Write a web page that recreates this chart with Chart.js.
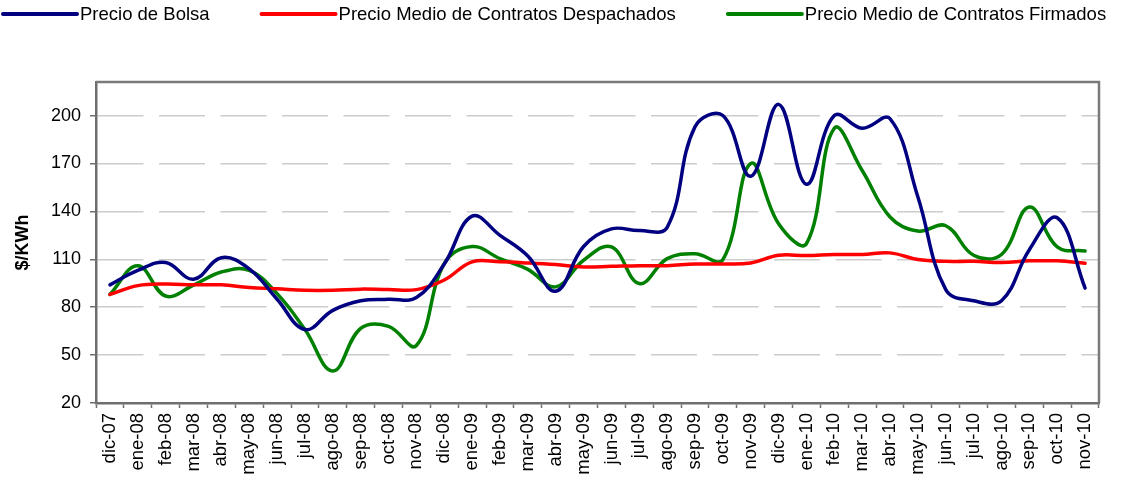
<!DOCTYPE html>
<html>
<head>
<meta charset="utf-8">
<script src="https://cdn.jsdelivr.net/npm/chart.js@4/dist/chart.umd.min.js"></script>
<style>
  html, body { margin: 0; padding: 0; background: #fff; }
  #wrap { width: 1123px; height: 478px; }
</style>
</head>
<body>
<div id="wrap"><canvas id="myChart" width="1123" height="478"></canvas></div>
<script>
// months on the x axis
var meses = ['dic-07','ene-08','feb-08','mar-08','abr-08','may-08','jun-08','jul-08','ago-08','sep-08','oct-08','nov-08',
             'dic-08','ene-09','feb-09','mar-09','abr-09','may-09','jun-09','jul-09','ago-09','sep-09','oct-09','nov-09',
             'dic-09','ene-10','feb-10','mar-10','abr-10','may-10','jun-10','jul-10','ago-10','sep-10','oct-10','nov-10'];

var precioBolsa = [94, 103, 108, 97.5, 111, 104, 85, 66, 78, 84, 85, 86,
                   107, 137, 125, 112, 90, 118, 129, 128, 130, 193, 200, 162,
                   207, 157, 200, 192, 198, 149, 91, 84, 84, 116, 136, 92];

var precioDespachados = [88, 93.5, 94.5, 94, 94, 92.3, 91.5, 90.6, 90.6, 91.3, 91, 91,
                         97, 108.4, 108.4, 107.7, 106.7, 105.2, 105.6, 106, 106, 107, 107, 107.7,
                         112.5, 112.3, 113, 113, 114, 109.8, 108.7, 108.7, 108, 109, 109, 107.5];

var precioFirmados = [88, 106, 87, 93.8, 102, 103, 88.5, 66, 40, 66.7, 68, 56,
                      107.3, 118, 110.4, 103.7, 92.7, 109.4, 117.7, 94.8, 110.4, 113.5, 109.8, 170,
                      132.3, 119.8, 192, 165.6, 136.5, 127.7, 131, 112.5, 113, 142.7, 117.7, 115.2];

var yTicks = [20, 50, 80, 110, 140, 170, 200];

Chart.defaults.font.family = '"Liberation Sans", Arial, sans-serif';
Chart.defaults.color = '#000';

// legend drawn across the top like the original
var topLegend = {
    id: 'topLegend',
    afterDraw: function(chart) {
        var ctx = chart.ctx;
        var x = 3, y = 14;
        ctx.save();
        ctx.font = '18.5px "Liberation Sans", Arial, sans-serif';
        ctx.textBaseline = 'middle';
        ctx.fillStyle = '#000';
        chart.data.datasets.forEach(function(ds) {
            ctx.strokeStyle = ds.borderColor;
            ctx.lineWidth = 4;
            ctx.lineCap = 'round';
            ctx.beginPath();
            ctx.moveTo(x, y);
            ctx.lineTo(x + 74, y);
            ctx.stroke();
            x += 77;
            ctx.fillText(ds.label, x, y + 1);
            x += ctx.measureText(ds.label).width + 52;
        });
        ctx.restore();
    }
};

// top and right edges of the plot box
var plotBox = {
    id: 'plotBox',
    afterDraw: function(chart) {
        var a = chart.chartArea, ctx = chart.ctx;
        ctx.save();
        ctx.strokeStyle = '#7a7a7a';
        ctx.lineWidth = 2.5;
        ctx.beginPath();
        ctx.moveTo(a.left, a.top);
        ctx.lineTo(a.right, a.top);
        ctx.lineTo(a.right, a.bottom);
        ctx.stroke();
        ctx.restore();
    }
};

var ctx = document.getElementById('myChart').getContext('2d');
var chart = new Chart(ctx, {
    type: 'line',
    data: {
        labels: meses,
        datasets: [{
            label: 'Precio de Bolsa',
            borderColor: '#000080',
            backgroundColor: '#000080',
            data: precioBolsa
        },{
            label: 'Precio Medio de Contratos Despachados',
            borderColor: '#ff0000',
            backgroundColor: '#ff0000',
            data: precioDespachados
        },{
            label: 'Precio Medio de Contratos Firmados',
            borderColor: '#008000',
            backgroundColor: '#008000',
            data: precioFirmados
        }]
    },
    options: {
        responsive: false,
        animation: false,
        layout: { padding: { top: 82, right: 24, left: 0, bottom: 0 } },
        elements: {
            line: { tension: 0.4, borderWidth: 3.5, fill: false, borderCapStyle: 'round' },
            point: { radius: 0 }
        },
        plugins: {
            legend: { display: false },
            tooltip: { enabled: false }
        },
        scales: {
            x: {
                offset: true,
                grid: { offset: true, drawOnChartArea: false, tickLength: 5, tickColor: '#6e6e6e', tickWidth: 1.5 },
                border: { color: '#6e6e6e', width: 2.5 },
                ticks: { minRotation: 90, maxRotation: 90, autoSkip: false, padding: 5, font: { size: 18.5 }, color: '#000' },
                afterFit: function(scale) { scale.height = 75; }
            },
            y: {
                min: 20,
                max: 221,
                afterBuildTicks: function(axis) {
                    axis.ticks = yTicks.map(function(v) { return { value: v }; });
                },
                grid: { color: '#cccccc', lineWidth: 1.5, tickLength: 6, tickColor: '#6e6e6e', tickWidth: 1.5, tickBorderDash: [] },
                border: { color: '#6e6e6e', width: 2.5, dash: [46, 15.5] },
                ticks: { padding: 9, font: { size: 18 }, color: '#000' },
                title: {
                    display: true,
                    text: '$/KWh',
                    font: { size: 18, weight: 'bold' },
                    color: '#000',
                    padding: { top: 12, bottom: 0 }
                },
                afterFit: function(scale) { scale.width = 96; }
            }
        }
    },
    plugins: [topLegend, plotBox]
});
</script>
</body>
</html>
